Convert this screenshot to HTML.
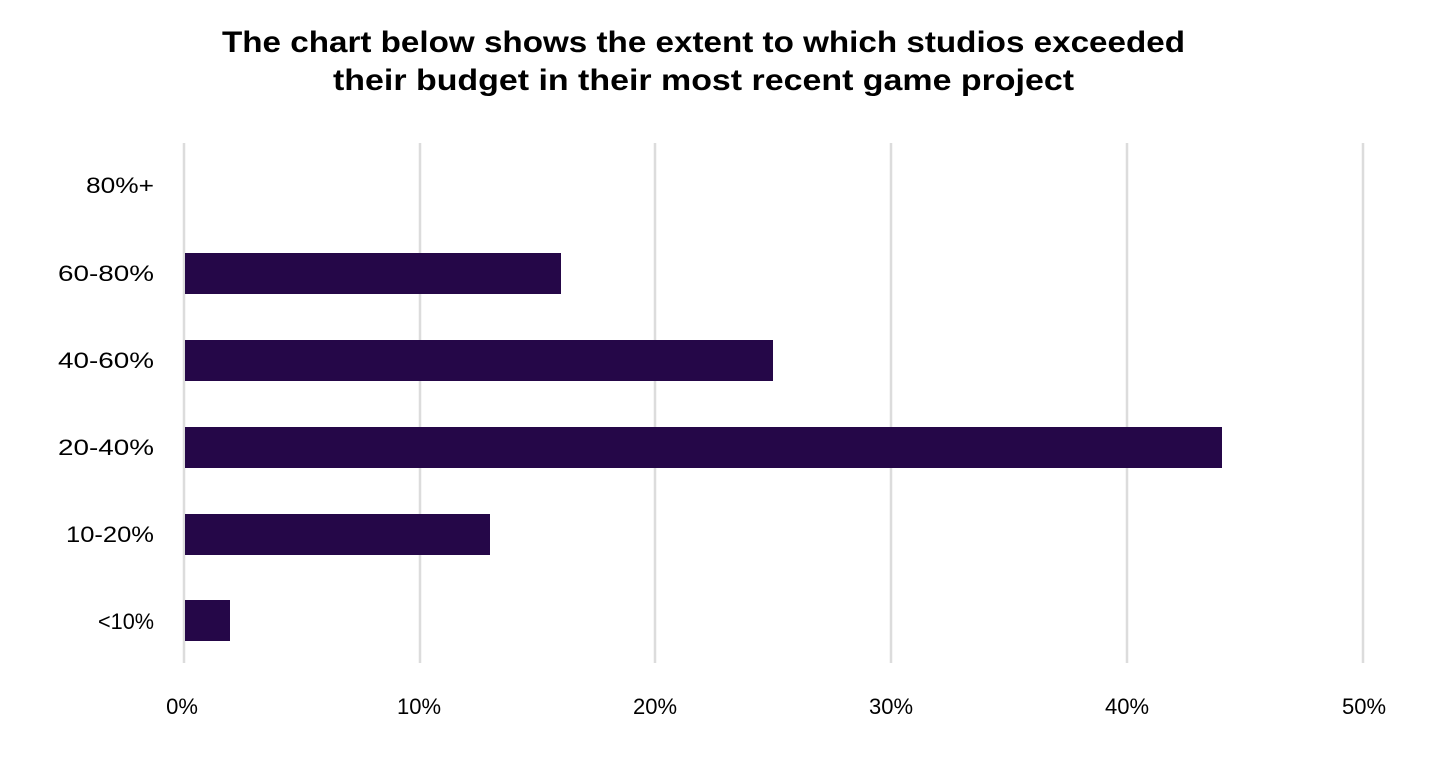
<!DOCTYPE html>
<html><head><meta charset="utf-8"><style>
html,body{margin:0;padding:0;background:#fff;}
svg text{font-family:"Liberation Sans",sans-serif;fill:#000;}
</style></head><body>
<svg width="1434" height="778" xmlns="http://www.w3.org/2000/svg">
<rect width="1434" height="778" fill="#fff"/>
<text x="222" y="52" font-size="30" font-weight="bold" textLength="963" lengthAdjust="spacingAndGlyphs">The chart below shows the extent to which studios exceeded</text>
<text x="333" y="90" font-size="30" font-weight="bold" textLength="741" lengthAdjust="spacingAndGlyphs">their budget in their most recent game project</text>
<g stroke="#dcdcdc" stroke-width="2.5">
<line x1="184" y1="143" x2="184" y2="663"/>
<line x1="420" y1="143" x2="420" y2="663"/>
<line x1="655" y1="143" x2="655" y2="663"/>
<line x1="891" y1="143" x2="891" y2="663"/>
<line x1="1127" y1="143" x2="1127" y2="663"/>
<line x1="1363" y1="143" x2="1363" y2="663"/>
</g>
<g fill="#250748">
<rect x="185" y="253" width="376" height="41"/>
<rect x="185" y="340" width="588" height="41"/>
<rect x="185" y="427" width="1037" height="41"/>
<rect x="185" y="514" width="305" height="41"/>
<rect x="185" y="600" width="45" height="41"/>
</g>
<g font-size="22">
<text x="86" y="193" textLength="68" lengthAdjust="spacingAndGlyphs">80%+</text>
<text x="58" y="281" textLength="96" lengthAdjust="spacingAndGlyphs">60-80%</text>
<text x="58" y="368" textLength="96" lengthAdjust="spacingAndGlyphs">40-60%</text>
<text x="58" y="455" textLength="96" lengthAdjust="spacingAndGlyphs">20-40%</text>
<text x="66" y="542" textLength="88" lengthAdjust="spacingAndGlyphs">10-20%</text>
<text x="98" y="629" textLength="56" lengthAdjust="spacingAndGlyphs">&lt;10%</text>
</g>
<g font-size="22" text-anchor="middle">
<text x="182" y="714">0%</text>
<text x="419" y="714">10%</text>
<text x="655" y="714">20%</text>
<text x="891" y="714">30%</text>
<text x="1127" y="714">40%</text>
<text x="1364" y="714">50%</text>
</g>
</svg>
</body></html>
